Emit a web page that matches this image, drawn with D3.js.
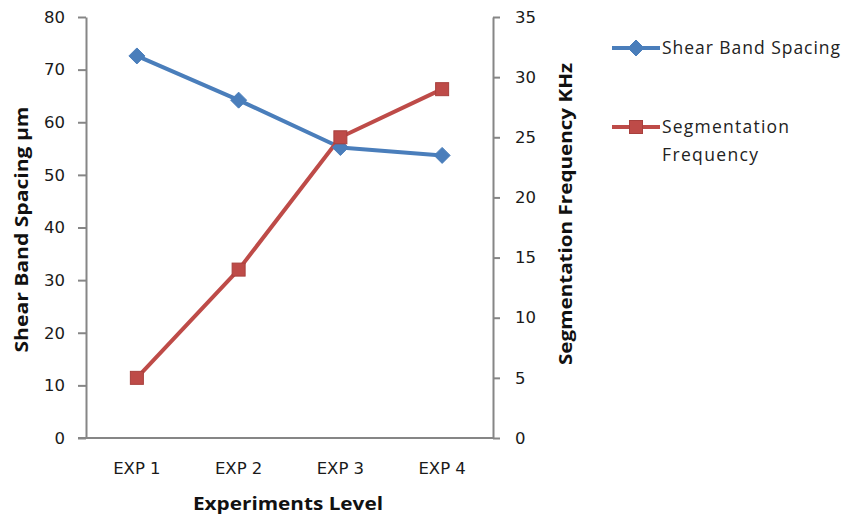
<!DOCTYPE html>
<html><head><meta charset="utf-8">
<script src="https://cdn.jsdelivr.net/npm/d3@7"></script>
<style>body{margin:0;background:#fff}svg{display:block}</style>
</head><body>
<script>
const categories = ["EXP 1", "EXP 2", "EXP 3", "EXP 4"];
const shearBandSpacing = [72.6, 64.2, 55.2, 53.7];
const segmentationFrequency = [5, 14, 25, 29];
const leftTicks = [0, 10, 20, 30, 40, 50, 60, 70, 80];
const rightTicks = [0, 5, 10, 15, 20, 25, 30, 35];
const seriesNames = ["Shear Band Spacing", "Segmentation Frequency"];

const W = 849, H = 518;
const m = {left: 86, right: 493, top: 17, bottom: 438};
const svg = d3.select("body").append("svg").attr("width", W).attr("height", H);

const x = d3.scaleBand().domain(categories).range([m.left, m.right]);
const yL = d3.scaleLinear().domain([0, 80]).range([m.bottom, m.top]);
const yR = d3.scaleLinear().domain([0, 35]).range([m.bottom, m.top]);

const tickFont = "DejaVu Sans";
const axisColor = "#868686";

const gL = svg.append("g").attr("transform", `translate(${m.left},0)`)
  .call(d3.axisLeft(yL).tickValues(leftTicks).tickSize(8).tickPadding(13).tickSizeOuter(0));
const gR = svg.append("g").attr("transform", `translate(${m.right},0)`)
  .call(d3.axisRight(yR).tickValues(rightTicks).tickSize(7).tickPadding(15).tickSizeOuter(0));
const gB = svg.append("g").attr("transform", `translate(0,${m.bottom})`)
  .call(d3.axisBottom(x).tickSize(0).tickPadding(24).tickSizeOuter(0));

[gL, gR, gB].forEach(g => {
  g.attr("font-family", tickFont).attr("font-size", 16.5);
  g.selectAll("path.domain").attr("stroke", axisColor).attr("stroke-width", 2);
  g.selectAll(".tick line").attr("stroke", axisColor).attr("stroke-width", 2);
  g.selectAll("text").style("font-family", tickFont).style("font-size", "16.5px").attr("fill", "#1a1a1a");
});
gB.select("path.domain").attr("d", `M${m.left - 8},0H${m.right}`);

const titleFont = "Open Sans";
svg.append("text").attr("transform", `translate(28,${(m.top + m.bottom) / 2 + 2}) rotate(-90)`)
  .attr("text-anchor", "middle").attr("font-family", titleFont).attr("font-weight", "bold")
  .attr("font-size", 18.5).attr("fill", "#111").attr("textLength", 246).attr("lengthAdjust", "spacingAndGlyphs")
  .text("Shear Band Spacing µm");
svg.append("text").attr("transform", `translate(572,214) rotate(-90)`)
  .attr("text-anchor", "middle").attr("font-family", titleFont).attr("font-weight", "bold")
  .attr("font-size", 18.5).attr("fill", "#111").attr("textLength", 302).attr("lengthAdjust", "spacingAndGlyphs")
  .text("Segmentation Frequency KHz");
svg.append("text").attr("x", 288).attr("y", 510)
  .attr("text-anchor", "middle").attr("font-family", titleFont).attr("font-weight", "bold")
  .attr("font-size", 18.5).attr("fill", "#111").attr("textLength", 190).attr("lengthAdjust", "spacingAndGlyphs")
  .text("Experiments Level");

const blue = "#4a7ebb", red = "#be4b48";
const cx = d => x(d) + x.bandwidth() / 2;

const lineL = d3.line().x((d, i) => cx(categories[i])).y(d => yL(d));
svg.append("path").datum(shearBandSpacing).attr("d", lineL)
  .attr("fill", "none").attr("stroke", blue).attr("stroke-width", 4).attr("stroke-linejoin", "round");
const lineR = d3.line().x((d, i) => cx(categories[i])).y(d => yR(d));
svg.append("path").datum(segmentationFrequency).attr("d", lineR)
  .attr("fill", "none").attr("stroke", red).attr("stroke-width", 4).attr("stroke-linejoin", "round");

function drawDiamond(g, px, py) {
  g.append("path").attr("d", `M${px},${py - 8}L${px + 8},${py}L${px},${py + 8}L${px - 8},${py}Z`)
    .attr("fill", blue).attr("stroke", blue).attr("stroke-width", 1);
}
function drawSquare(g, px, py) {
  g.append("rect").attr("x", px - 6.5).attr("y", py - 6.5).attr("width", 13).attr("height", 13)
    .attr("fill", red).attr("stroke", "#a8403d").attr("stroke-width", 1);
}
const mk = svg.append("g");
shearBandSpacing.forEach((v, i) => drawDiamond(mk, cx(categories[i]), yL(v)));
segmentationFrequency.forEach((v, i) => drawSquare(mk, cx(categories[i]), yR(v)));

const lg = svg.append("g");
const legFont = "Open Sans";
lg.append("line").attr("x1", 612).attr("x2", 660).attr("y1", 48).attr("y2", 48).attr("stroke", blue).attr("stroke-width", 4);
drawDiamond(lg, 636, 48);
lg.append("text").attr("x", 662).attr("y", 54).attr("font-family", legFont).attr("font-size", 17.5)
  .attr("fill", "#222").attr("textLength", 178).attr("lengthAdjust", "spacing").text(seriesNames[0]);
lg.append("line").attr("x1", 612).attr("x2", 660).attr("y1", 127).attr("y2", 127).attr("stroke", red).attr("stroke-width", 4);
drawSquare(lg, 636, 127);
lg.append("text").attr("x", 662).attr("y", 133).attr("font-family", legFont).attr("font-size", 17.5)
  .attr("fill", "#222").attr("textLength", 127).attr("lengthAdjust", "spacing").text("Segmentation");
lg.append("text").attr("x", 662).attr("y", 161).attr("font-family", legFont).attr("font-size", 17.5)
  .attr("fill", "#222").attr("textLength", 96).attr("lengthAdjust", "spacing").text("Frequency");
</script>
</body></html>
